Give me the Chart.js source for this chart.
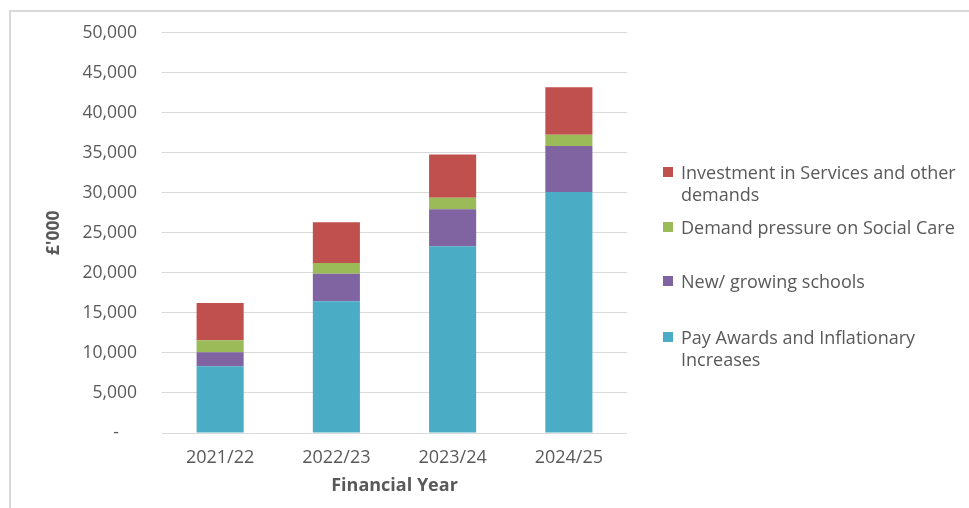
<!DOCTYPE html>
<html>
<head>
<meta charset="utf-8">
<script src="https://cdn.jsdelivr.net/npm/chart.js@4.4.1/dist/chart.umd.min.js"></script>
<style>
    html, body { margin: 0; padding: 0; background: #fff; }
    #wrap { position: relative; width: 969px; height: 508px; overflow: hidden; font-family: "Open Sans", sans-serif; }
    #frame { position: absolute; left: 9px; top: 10px; width: 1000px; height: 600px; border: 2px solid #d9d9d9; box-sizing: border-box; }
    #budgetChart { position: absolute; left: 0; top: 0; }
    .legend-item { position: absolute; left: 663px; color: #595959; font-size: 18px; line-height: 22px; }
    .legend-item .box { position: absolute; left: 0; top: 6px; width: 10px; height: 10px; }
    .legend-item .txt { margin-left: 18px; white-space: nowrap; }
</style>
</head>
<body>
<div id="wrap">
    <div id="frame"></div>
    <canvas id="budgetChart" width="969" height="508"></canvas>
    <div id="legend"></div>
</div>
<script>
// Data
const years = ['2021/22', '2022/23', '2023/24', '2024/25'];
const payAwards = [8340, 16460, 23340, 30100];
const newSchools = [1760, 3440, 4620, 5750];
const socialCare = [1490, 1350, 1440, 1430];
const investment = [4660, 5090, 5400, 5920];
const yTicks = [0, 5000, 10000, 15000, 20000, 25000, 30000, 35000, 40000, 45000, 50000];

const seriesLines = [
    ['Pay Awards and Inflationary', 'Increases'],
    ['New/ growing schools'],
    ['Demand pressure on Social Care'],
    ['Investment in Services and other', 'demands']
];
const seriesColors = ['#4bacc6', '#8064a2', '#9bbb59', '#c0504d'];
const seriesValues = [payAwards, newSchools, socialCare, investment];

const txt_color = '#595959';
const grid_color = '#d9d9d9';

const datasets = seriesValues.map((values, index) => ({
    label: seriesLines[index].join(' '),
    data: values,
    backgroundColor: seriesColors[index],
    borderWidth: 0,
    categoryPercentage: 1.0,
    barPercentage: 0.405
}));

const ctx = document.getElementById('budgetChart').getContext('2d');
const budgetChart = new Chart(ctx, {
    type: 'bar',
    data: { labels: years, datasets: datasets },
    options: {
        responsive: false,
        animation: false,
        layout: { padding: { left: 0, right: 342, top: 10, bottom: 0 } },
        scales: {
            x: {
                stacked: true,
                grid: { display: false },
                border: { display: false },
                ticks: { color: txt_color, font: { family: 'Open Sans', size: 18 }, padding: 6 },
                title: {
                    display: true,
                    text: 'Financial Year',
                    color: txt_color,
                    font: { family: 'Open Sans', size: 18, weight: 'bold' },
                    padding: { top: 0, bottom: 11 }
                },
                afterFit: (scale) => { scale.height = 75; }
            },
            y: {
                stacked: true,
                min: 0,
                max: 50000,
                afterBuildTicks: (scale) => { scale.ticks = yTicks.map(v => ({ value: v })); },
                grid: { color: grid_color, lineWidth: 1, drawTicks: false },
                border: { display: false },
                ticks: {
                    color: txt_color,
                    font: { family: 'Open Sans', size: 17.5, lineHeight: 0.9 },
                    padding: 25,
                    callback: (v) => v === 0 ? '-    ' : v.toLocaleString('en-GB')
                },
                title: {
                    display: true,
                    text: "£'000",
                    color: txt_color,
                    font: { family: 'Open Sans', size: 17.5, weight: 'bold' },
                    padding: { top: 44, bottom: 0 }
                },
                afterFit: (scale) => { scale.width = 162; }
            }
        },
        plugins: {
            legend: { display: false },
            tooltip: { enabled: false }
        }
    }
});

// Legend, top entry is the top of the stack
const legendTops = [326, 270, 216, 161];
const legendBox = document.getElementById('legend');
budgetChart.data.datasets.forEach((ds, index) => {
    const item = document.createElement('div');
    item.className = 'legend-item';
    item.style.top = legendTops[index] + 'px';
    const box = document.createElement('div');
    box.className = 'box';
    box.style.background = ds.backgroundColor;
    const txt = document.createElement('div');
    txt.className = 'txt';
    txt.innerHTML = seriesLines[index].join('<br>');
    item.appendChild(box);
    item.appendChild(txt);
    legendBox.appendChild(item);
});
</script>
</body>
</html>
